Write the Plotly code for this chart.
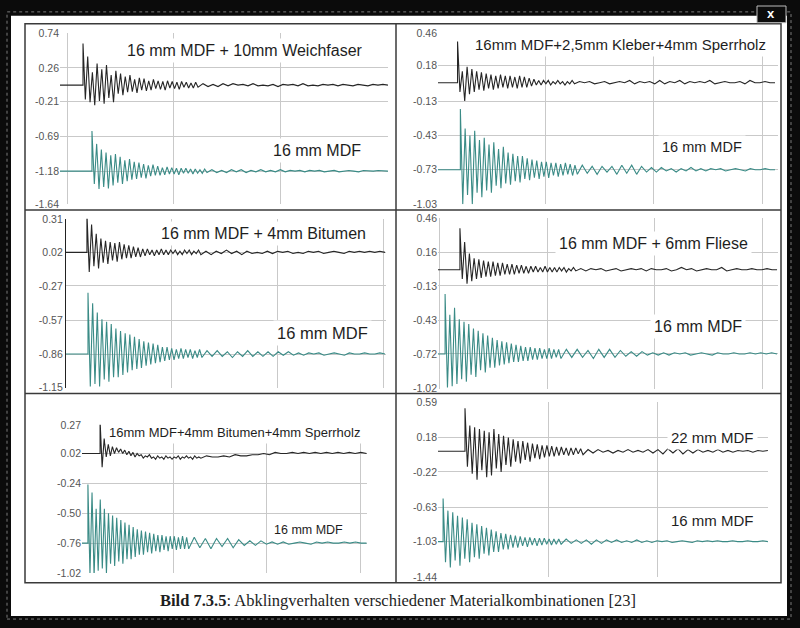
import plotly.graph_objects as go

W, H = 800, 628

# ---------------- data ----------------
black_labels = ["16 mm MDF + 10mm Weichfaser", "16mm MDF+2,5mm Kleber+4mm Sperrholz",
                "16 mm MDF + 4mm Bitumen", "16 mm MDF + 6mm Fliese",
                "16mm MDF+4mm Bitumen+4mm Sperrholz", "22 mm MDF"]
teal_labels = ["16 mm MDF", "16 mm MDF", "16 mm MDF", "16 mm MDF", "16 mm MDF", "16 mm MDF"]

yticks_p1 = [0.74, 0.26, -0.21, -0.69, -1.18, -1.64]
yticks_p2 = [0.46, 0.18, -0.13, -0.43, -0.73, -1.03]
yticks_p3 = [0.31, 0.02, -0.27, -0.57, -0.86, -1.15]
yticks_p4 = [0.46, 0.16, -0.13, -0.43, -0.72, -1.02]
yticks_p5 = [0.27, 0.02, -0.24, -0.50, -0.76, -1.02]
yticks_p6 = [0.59, 0.18, -0.22, -0.63, -1.03, -1.44]
yticks_all = [yticks_p1, yticks_p2, yticks_p3, yticks_p4, yticks_p5, yticks_p6]

black_base = [0.02, 0.03, 0.02, 0.01, 0.02, 0.02]
teal_base = [-1.18, -0.73, -0.86, -0.72, -0.76, -1.03]
black_t0_ms = [7.5, 9.7, 9.9, 9.5, 11.0, 12.1]
teal_t0_ms = [11.7, 11.0, 10.4, 2.6, 4.5, 2.1]
record_end_ms = [150.4, 156.0, 150.9, 157.0, 153.5, 150.4]
head_step_ms = 1.1

# signal extremes, deviation from the trace's zero line, in hundredths
p1_black_head = [58,-20,40,-24,18,-28,30,-22,22,-26,28,-18,14,-24,20,-12,16,-14,12,-10,14,-9,8,-11,10,-7,9,-8,6,-7,8,-5,6,-6,5,-7,6,-4,5,-5,4,-6,5,-3,4,-4,3,-4,4,-3]
p1_black_tail = [2,-2,1,-2,2,-1,2,0,1,-1,2,-1,0,-1,1,-2,1,0,1,-1,2,-1,0,-1,1,0,1,-1,1,0,-1,1,0,-1,1,0,1,0]
p1_teal_head = [56,-18,38,-25,30,-22,26,-24,22,-20,24,-16,20,-18,15,-14,17,-12,13,-11,12,-9,10,-10,8,-7,9,-6,7,-6,5,-5,6,-4,5,-4,4,-5,4,-3,4,-3,3,-4,3,-3,2,-3,3,-2]
p1_teal_tail = [2,-2,1,-2,2,-1,2,-2,1,-1,2,-1,1,-1,2,-1,1,0,1,-1,1,0,1,-1,0,1,-1,0,1,0,-1,1,0,0,1,0,0]

p2_black_head = [36,-8,10,-16,14,-10,12,-8,10,-6,9,-7,8,-5,7,-6,6,-5,7,-4,6,-5,6,-4,5,-5,6,-4,5,-4,4,-3,3,-2,2,-2,2,-1,2,-2,1,-1,2,-1,1,-2,1,-1,2,-1]
p2_black_tail = [1,0,1,-1,0,1,-1,0,1,0,2,-1,1,0,1,-1,2,-1,1,0,2,-1,1,0,1,0,2,-1,0,1,0,0,1,-1,2,0,0,1,0,0]
p2_teal_head = [53,-30,36,-22,30,-30,34,-20,26,-24,28,-18,22,-20,24,-14,18,-16,20,-12,15,-13,14,-10,12,-11,12,-8,10,-9,9,-7,8,-8,7,-6,7,-7,6,-5,6,-6,5,-5,6,-4,5,-5,4,-4]
p2_teal_tail = [4,-3,3,-4,3,-2,3,-4,4,-3,4,-4,3,-2,2,-2,2,-1,1,-2,1,-1,2,-1,1,-1,1,0,1,-1,0,1,0,-1,1,0,0,1,0,0]

p3_black_head = [34,-17,24,-12,16,-14,12,-9,10,-10,9,-7,8,-8,9,-6,7,-5,6,-5,5,-4,4,-4,3,-3,3,-2,2,-3,2,-2,3,-2,2,-2,2,-1,2,-2,1,-2,2,-1,2,-2,1,-1,2,-2]
p3_black_tail = [1,-2,1,-1,2,-1,1,-2,1,-1,0,-1,1,-1,1,0,1,-1,0,-1,1,0,1,-1,0,1,0,-1,1,0,1,0,1,0,1,0]
p3_teal_head = [53,-28,44,-26,36,-28,30,-22,28,-24,26,-20,22,-20,20,-18,18,-16,17,-14,15,-13,13,-12,11,-10,10,-9,9,-8,8,-7,6,-6,6,-5,5,-5,4,-4,5,-4,4,-3,4,-4,3,-3,4,-3]
p3_teal_tail = [3,-2,3,-2,2,-3,2,-2,3,-2,2,-2,2,-2,2,-1,2,-1,1,-1,1,0,1,-1,0,1,0,-1,1,0,0,1,0,0,1,0]

p4_black_head = [36,-8,24,-12,14,-10,10,-8,9,-7,8,-6,7,-6,7,-5,6,-5,6,-4,5,-4,5,-4,4,-3,4,-3,3,-3,3,-2,3,-2,2,-2,3,-2,2,-2,2,-2,2,-1,2,-2,1,-1,2,-1]
p4_black_tail = [1,-1,1,0,1,-1,0,1,-1,0,1,0,1,-1,1,0,0,1,-1,0,2,0,1,-1,0,1,0,0,2,-1,0,1,0,0,1,0,0,1,0,0]
p4_teal_head = [52,-29,34,-28,40,-26,30,-22,28,-24,26,-18,22,-20,20,-14,18,-16,16,-12,14,-12,12,-10,11,-9,10,-8,9,-7,8,-7,7,-6,6,-6,6,-5,5,-5,5,-4,4,-4,5,-4,4,-3,4,-4]
p4_teal_tail = [4,-3,4,-3,3,-4,4,-3,4,-3,3,-2,2,-2,2,-1,1,-1,1,-1,1,0,1,-1,0,1,0,-1,1,0,0,1,0,0,1,0,1,0,1,0]

p5_black_head = [29,-12,13,-3,8,-2,6,0,5,1,4,0,3,-1,2,-2,1,-3,0,-2,-1,-4,-2,-3,-1,-4,-3,-5,-2,-4,-3,-5,-2,-4,-3,-5,-3,-4,-2,-5,-3,-4,-2,-4,-3,-5,-2,-4,-3,-4]
p5_black_tail = [-2,-3,-3,-2,-3,-1,-2,-2,-1,-1,0,-1,1,0,0,1,0,1,0,1,0,1,0,1,0,1,0,1,0]
p5_teal_head = [51,-27,44,-29,30,-24,38,-22,30,-26,26,-18,24,-20,22,-16,20,-18,18,-14,16,-14,14,-12,12,-10,11,-10,10,-8,9,-9,8,-7,7,-8,7,-6,6,-7,6,-5,6,-6,5,-5,6,-5,5,-5]
p5_teal_tail = [5,-4,4,-5,4,-3,4,-4,3,-2,2,-2,2,-1,1,-1,1,-1,0,1,0,-1,1,0,1,0,0,1,0,1,0,0]

p6_black_head = [50,-18,30,-26,28,-33,26,-22,24,-30,22,-28,26,-20,20,-24,18,-16,16,-18,14,-12,12,-14,12,-10,10,-12,9,-8,8,-9,7,-7,7,-6,6,-6,5,-5,5,-4,4,-5,4,-4,4,-3,3,-4]
p6_black_tail = [2,-2,2,-1,1,-2,1,-1,2,-1,1,-1,2,-2,2,-3,3,-2,3,-3,2,-2,2,-1,1,-1,2,-1,1,-1,1,0,1,-1,1,0,1]
p6_teal_head = [50,-24,36,-30,34,-22,30,-28,28,-20,26,-24,22,-18,20,-20,18,-14,16,-16,14,-12,12,-12,10,-9,9,-9,8,-7,7,-7,6,-5,5,-6,5,-4,4,-5,4,-4,4,-3,3,-4,3,-3,3,-3]
p6_teal_tail = [3,-2,2,-2,2,-3,2,-2,2,-1,2,-1,1,-1,2,-1,1,-1,1,0,1,-1,0,1,0,-1,1,0,1,0,1,0,0,1,0,0,1,0,0,1,0]

black_heads = [p1_black_head, p2_black_head, p3_black_head, p4_black_head, p5_black_head, p6_black_head]
black_tails = [p1_black_tail, p2_black_tail, p3_black_tail, p4_black_tail, p5_black_tail, p6_black_tail]
teal_heads = [p1_teal_head, p2_teal_head, p3_teal_head, p4_teal_head, p5_teal_head, p6_teal_head]
teal_tails = [p1_teal_tail, p2_teal_tail, p3_teal_tail, p4_teal_tail, p5_teal_tail, p6_teal_tail]

caption = "<b>Bild 7.3.5</b>: Abklingverhalten verschiedener Materialkombinationen [23]"

# ---------------- layout geometry (pixels) ----------------
# plot box: left, right, top, bottom ; first vertical grid px and px per 50 ms
boxes = [
    (60, 388, 28, 202, 67.0, 106.7),
    (438, 778, 28, 202, 436.5, 108.5),
    (66, 386, 217, 389, 66.0, 105.7),
    (438, 778, 216, 390, 439.5, 107.5),
    (82, 367, 427, 578, 79.5, 93.5),
    (438, 768, 404, 582, 438.5, 109.5),
]
# label positions (px centre) and font size
title_pos = [(245, 45, 16), (620, 39, 15), (263, 232, 16), (653, 242, 16), (234, 435, 13), (712, 440, 15)]
teal_pos = [(317, 147, 16), (702, 144, 14.5), (322, 333, 16.5), (698, 327, 16), (308, 534, 12.5), (712, 525, 15)]

BLACK = "#262626"
TEAL = "#3a8b86"
GRID = "#c9c9c9"


def px(x):
    return x / W


def py(y):
    return 1 - y / H


def build(t0, head, tail, base, xmin, t_end):
    xs = [xmin, t0]
    ys = [base, base]
    for i, v in enumerate(head):
        xs.append(t0 + i * head_step_ms)
        ys.append(base + v / 100.0)
    h_end = t0 + (len(head) - 1) * head_step_ms
    dt = (t_end - h_end) / len(tail)
    for j, v in enumerate(tail):
        xs.append(h_end + (j + 1) * dt)
        ys.append(base + v / 100.0)
    return xs, ys


fig = go.Figure()
layout = dict()
annotations = []

for k in range(6):
    L, R, T, B, g0, s = boxes[k]
    xr = [(L - g0) / s * 50, (R - g0) / s * 50]
    ticks = yticks_all[k]
    xa = "xaxis" if k == 0 else f"xaxis{k+1}"
    ya = "yaxis" if k == 0 else f"yaxis{k+1}"
    xref = "x" if k == 0 else f"x{k+1}"
    yref = "y" if k == 0 else f"y{k+1}"
    layout[xa] = dict(domain=[px(L), px(R)], range=xr, anchor=yref,
                      tickvals=[0, 50, 100, 150], showticklabels=False, ticks="",
                      showgrid=True, gridcolor=GRID, gridwidth=1, zeroline=False,
                      showline=False, fixedrange=True)
    layout[ya] = dict(domain=[py(B), py(T)], range=[ticks[-1], ticks[0]], anchor=xref,
                      tickvals=ticks, ticktext=[f"{t:.2f}" for t in ticks],
                      tickfont=dict(family="Arial, Liberation Sans", size=10.5, color="#555555"),
                      ticks="", showgrid=True, gridcolor=GRID, gridwidth=1, zeroline=False,
                      showline=(k == 2), linecolor="#222", linewidth=1.2, fixedrange=True)
    xmin = xr[0]
    bx, by = build(black_t0_ms[k], black_heads[k], black_tails[k], black_base[k], xmin, record_end_ms[k])
    tx, ty = build(teal_t0_ms[k], teal_heads[k], teal_tails[k], teal_base[k], xmin, record_end_ms[k])
    fig.add_trace(go.Scatter(x=tx, y=ty, mode="lines", line=dict(color=TEAL, width=1.1),
                             xaxis=xref, yaxis=yref, showlegend=False, hoverinfo="skip"))
    fig.add_trace(go.Scatter(x=bx, y=by, mode="lines", line=dict(color=BLACK, width=1.1),
                             xaxis=xref, yaxis=yref, showlegend=False, hoverinfo="skip"))
    tx_, ty_, fs = title_pos[k]
    annotations.append(dict(text=black_labels[k], x=px(tx_), y=py(ty_), xref="paper", yref="paper",
                            showarrow=False, xanchor="center", yanchor="middle",
                            font=dict(family="Arial, Liberation Sans", size=fs, color="#1e1e1e"),
                            bgcolor="white", borderpad=3))
    mx, my, fs2 = teal_pos[k]
    annotations.append(dict(text=teal_labels[k], x=px(mx), y=py(my), xref="paper", yref="paper",
                            showarrow=False, xanchor="center", yanchor="middle",
                            font=dict(family="Arial, Liberation Sans", size=fs2, color="#1e1e1e"),
                            bgcolor="white", borderpad=3))

annotations.append(dict(text=caption, x=px(398), y=py(606), xref="paper", yref="paper",
                        showarrow=False, xanchor="center", yanchor="middle",
                        font=dict(family="Liberation Serif, Times New Roman", size=16.5, color="#1e1e1e")))
annotations.append(dict(text="<b>x</b>", x=px(771), y=py(8), xref="paper", yref="paper",
                        showarrow=False, xanchor="center", yanchor="middle",
                        font=dict(family="Arial, Liberation Sans", size=13, color="white")))

shapes = [
    dict(type="rect", xref="paper", yref="paper", x0=px(11), x1=px(787), y0=py(622), y1=py(10),
         fillcolor="white", line=dict(width=0), layer="below"),
    dict(type="rect", xref="paper", yref="paper", x0=px(7), x1=px(791), y0=py(625), y1=py(6),
         fillcolor="rgba(0,0,0,0)", line=dict(width=1, color="#7a7a7a", dash="dot"), layer="below"),
    dict(type="rect", xref="paper", yref="paper", x0=px(25), x1=px(781), y0=py(588), y1=py(18),
         line=dict(width=1.5, color="#3a3a3a"), layer="above"),
    dict(type="line", xref="paper", yref="paper", x0=px(396), x1=px(396), y0=py(588), y1=py(18),
         line=dict(width=1.5, color="#3a3a3a")),
    dict(type="line", xref="paper", yref="paper", x0=px(25), x1=px(781), y0=py(208), y1=py(208),
         line=dict(width=1.5, color="#3a3a3a")),
    dict(type="line", xref="paper", yref="paper", x0=px(25), x1=px(781), y0=py(395), y1=py(395),
         line=dict(width=1.5, color="#3a3a3a")),
    dict(type="rect", xref="paper", yref="paper", x0=px(757), x1=px(786), y0=py(17), y1=py(0),
         fillcolor="#0c0c0c", line=dict(width=1, color="#bbbbbb"), layer="above"),
]

fig.update_layout(**layout)
fig.update_layout(width=W, height=H, margin=dict(l=0, r=0, t=0, b=0),
                  paper_bgcolor="#0b0b0b", plot_bgcolor="rgba(0,0,0,0)",
                  annotations=annotations, shapes=shapes, showlegend=False)

page_fix = ("document.body.style.margin='0px';"
            "document.body.style.padding='0px';"
            "document.body.style.overflow='hidden';"
            "document.body.style.background='#0b0b0b';")
fig.write_html("out.html", post_script=page_fix, config={"displayModeBar": False})
